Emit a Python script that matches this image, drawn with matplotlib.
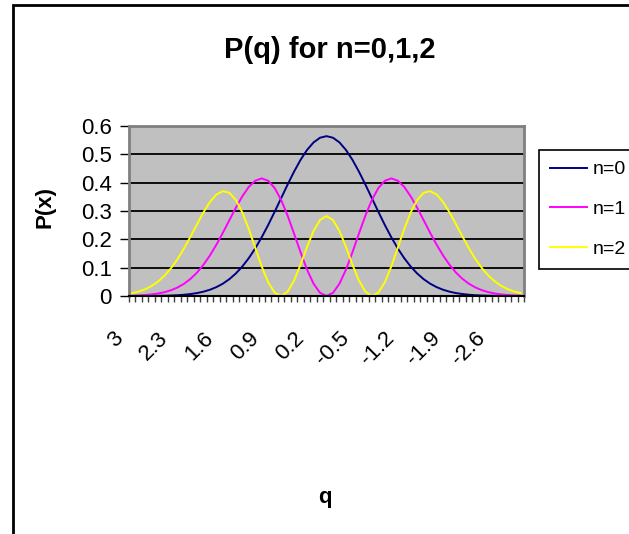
import numpy as np
import matplotlib
matplotlib.use('Agg')
import matplotlib.pyplot as plt
import matplotlib.transforms as mtransforms
from matplotlib.patches import Rectangle

plt.rcParams['font.family'] = ['Liberation Sans', 'DejaVu Sans']

# categories q = 3.0 ... -3.0
q = [3, 2.9, 2.8, 2.7, 2.6, 2.5, 2.4, 2.3, 2.2, 2.1, 2, 1.9, 1.8, 1.7, 1.6,
     1.5, 1.4, 1.3, 1.2, 1.1, 1, 0.9, 0.8, 0.7, 0.6, 0.5, 0.4, 0.3, 0.2, 0.1,
     0, -0.1, -0.2, -0.3, -0.4, -0.5, -0.6, -0.7, -0.8, -0.9, -1, -1.1, -1.2,
     -1.3, -1.4, -1.5, -1.6, -1.7, -1.8, -1.9, -2, -2.1, -2.2, -2.3, -2.4,
     -2.5, -2.6, -2.7, -2.8, -2.9, -3]

p_n0 = [0.0001, 0.0001, 0.0002, 0.0004, 0.0007, 0.0011, 0.0018, 0.0028, 0.0045,
        0.0069, 0.0103, 0.0153, 0.0221, 0.0314, 0.0436, 0.0595, 0.0795, 0.1041,
        0.1337, 0.1682, 0.2076, 0.2510, 0.2975, 0.3456, 0.3936, 0.4394, 0.4808,
        0.5156, 0.5421, 0.5586, 0.5642,
        0.5586, 0.5421, 0.5156, 0.4808, 0.4394, 0.3936, 0.3456, 0.2975, 0.2510,
        0.2076, 0.1682, 0.1337, 0.1041, 0.0795, 0.0595, 0.0436, 0.0314, 0.0221,
        0.0153, 0.0103, 0.0069, 0.0045, 0.0028, 0.0018, 0.0011, 0.0007, 0.0004,
        0.0002, 0.0001, 0.0001]

p_n1 = [0.0013, 0.0021, 0.0035, 0.0056, 0.0088, 0.0136, 0.0205, 0.0301, 0.0432,
        0.0605, 0.0826, 0.1102, 0.1432, 0.1813, 0.2233, 0.2676, 0.3115, 0.3519,
        0.3850, 0.4071, 0.4151, 0.4066, 0.3808, 0.3387, 0.2834, 0.2197, 0.1539,
        0.0928, 0.0434, 0.0112, 0.0,
        0.0112, 0.0434, 0.0928, 0.1539, 0.2197, 0.2834, 0.3387, 0.3808, 0.4066,
        0.4151, 0.4071, 0.3850, 0.3519, 0.3115, 0.2676, 0.2233, 0.1813, 0.1432,
        0.1102, 0.0826, 0.0605, 0.0432, 0.0301, 0.0205, 0.0136, 0.0088, 0.0056,
        0.0035, 0.0021, 0.0013]

p_n2 = [0.0100, 0.0156, 0.0239, 0.0355, 0.0513, 0.0720, 0.0984, 0.1303, 0.1680,
        0.2098, 0.2531, 0.2952, 0.3318, 0.3583, 0.3701, 0.3643, 0.3388, 0.2949,
        0.2362, 0.1696, 0.1038, 0.0482, 0.0117, 0.0001, 0.0154, 0.0549, 0.1112,
        0.1734, 0.2294, 0.2682, 0.2821,
        0.2682, 0.2294, 0.1734, 0.1112, 0.0549, 0.0154, 0.0001, 0.0117, 0.0482,
        0.1038, 0.1696, 0.2362, 0.2949, 0.3388, 0.3643, 0.3701, 0.3583, 0.3318,
        0.2952, 0.2531, 0.2098, 0.1680, 0.1303, 0.0984, 0.0720, 0.0513, 0.0355,
        0.0239, 0.0156, 0.0100]

series = [('n=0', p_n0, '#000080'), ('n=1', p_n1, '#FF00FF'), ('n=2', p_n2, '#FFFF00')]

W, H = 629, 534
fig = plt.figure(figsize=(W / 100, H / 100), dpi=100)

# chart area border (runs off the right and bottom of the picture)
fig.patches.append(Rectangle((13 / W, -0.1), 1.2, 1 - 5 / H + 0.1, transform=fig.transFigure,
                             fill=False, edgecolor='black', linewidth=2))

ax = fig.add_axes([129 / W, 1 - 296 / H, (524 - 129) / W, (296 - 126) / H])
ax.set_facecolor('#C0C0C0')

x = np.arange(len(q))
for name, vals, col in series:
    ax.plot(x, vals, color=col, linewidth=1.4, label=name)

ax.set_xlim(-0.5, len(q) - 0.5)
ax.set_ylim(0, 0.6)
ax.set_yticks(np.arange(0, 0.61, 0.1))
ax.set_yticklabels(['0', '0.1', '0.2', '0.3', '0.4', '0.5', '0.6'], fontsize=16)
ax.yaxis.grid(True, color='black', linewidth=1.3)
ax.set_axisbelow(True)
ax.tick_params(axis='y', direction='out', length=6.5, width=1, pad=6, color='black')

major = x[::7]
ax.set_xticks(major)
ax.set_xticklabels([str(q[i]) for i in major], fontsize=16, rotation=45,
                   ha='right', va='top', rotation_mode='anchor')
ax.set_xticks(np.arange(-0.5, len(q), 1.0), minor=True)
ax.tick_params(axis='x', which='major', length=0, pad=23)
ax.tick_params(axis='x', which='minor', direction='out', length=4, width=1, color='#404040')
off = mtransforms.ScaledTranslation(-20 / 100, 0, fig.dpi_scale_trans)
for lab in ax.get_xticklabels():
    lab.set_transform(lab.get_transform() + off)

for s in ['top', 'right', 'left']:
    ax.spines[s].set_color('#808080')
    ax.spines[s].set_linewidth(2)
ax.spines['bottom'].set_color('black')
ax.spines['bottom'].set_linewidth(1.5)

fig.text(330 / W, 1 - 50 / H, 'P(q) for n=0,1,2', ha='center', va='center',
         fontsize=21, fontweight='bold')
fig.text(45 / W, 1 - 207 / H, 'P(x)', ha='center', va='center', rotation=90,
         fontsize=16, fontweight='bold')
fig.text(325 / W, 1 - 497 / H, 'q', ha='center', va='center',
         fontsize=16, fontweight='bold')

leg = ax.legend(loc='upper left', bbox_to_anchor=(539 / W, 1 - 150 / H),
                bbox_transform=fig.transFigure, fontsize=14, frameon=True,
                fancybox=False, borderaxespad=0, borderpad=0.55, labelspacing=1.15,
                handlelength=1.9, handletextpad=0.3)
leg.get_frame().set_edgecolor('black')
leg.get_frame().set_linewidth(1.2)
leg.get_frame().set_facecolor('white')
leg.get_frame().set_alpha(1)

fig.savefig('out.png', dpi=100)
